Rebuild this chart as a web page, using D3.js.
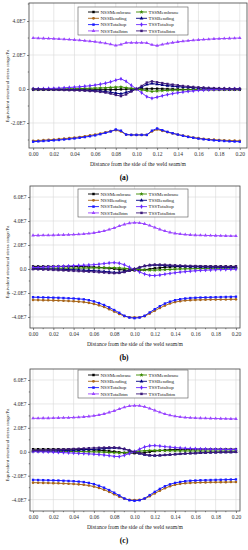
<!DOCTYPE html>
<html>
<head>
<meta charset="utf-8">
<script src="https://cdn.jsdelivr.net/npm/d3@7"></script>
<style>
  body { margin: 0; background: #fff; }
  svg { display: block; font-family: "Liberation Serif", "DejaVu Serif", serif; }
</style>
</head>
<body>
<div id="chart"></div>
<script>
// distance from weld seam side (m)
const xs = [0,0.005,0.01,0.015,0.02,0.025,0.03,0.035,0.04,0.045,0.05,0.055,0.06,0.065,0.07,0.075,0.08,0.085,0.09,0.095,
  0.1,0.105,0.11,0.115,0.12,0.125,0.13,0.135,0.14,0.145,0.15,0.155,0.16,0.165,0.17,0.175,0.18,0.185,0.19,0.195,0.2];

const seriesNames = ['NSSMembrane','TSSMembrane','NSSBending','TSSBending','NSSTotaltop','TSSTotaltop','NSSTotalbtm','TSSTotalbtm'];

const xTickValues = [0,0.02,0.04,0.06,0.08,0.1,0.12,0.14,0.16,0.18,0.2];
const xTickLabels = ['0.00','0.02','0.04','0.06','0.08','0.10','0.12','0.14','0.16','0.18','0.20'];
const yTickValuesA = [-2,0,2,4];
const yTickLabelsA = ['-2.0E7','0.0','2.0E7','4.0E7'];
const yTickValuesBC = [-4,-2,0,2,4,6];
const yTickLabelsBC = ['-4.0E7','-2.0E7','0.0','2.0E7','4.0E7','6.0E7'];

// values in units of 1E7 Pa
// panel (a)
const aNSSMembrane = [-0.05,-0.05,-0.05,-0.05,-0.05,-0.05,-0.05,-0.05,-0.05,-0.05,-0.05,-0.05,-0.04,-0.04,-0.04,-0.04,-0.03,-0.02,-0.01,0.0,0.0,0.0,0.01,0.02,0.02,0.01,0.0,-0.01,-0.02,-0.03,-0.03,-0.04,-0.04,-0.04,-0.05,-0.05,-0.05,-0.05,-0.05,-0.05,-0.05];
const aNSSBending = [-3.05,-3.03,-3.01,-2.99,-2.97,-2.95,-2.92,-2.89,-2.86,-2.82,-2.78,-2.73,-2.68,-2.62,-2.55,-2.48,-2.42,-2.50,-2.68,-2.70,-2.70,-2.70,-2.70,-2.50,-2.38,-2.46,-2.54,-2.61,-2.68,-2.74,-2.80,-2.85,-2.89,-2.93,-2.96,-2.98,-3.00,-3.02,-3.03,-3.04,-3.05];
const aNSSTotaltop = [-3.10,-3.08,-3.06,-3.04,-3.02,-3.00,-2.97,-2.94,-2.91,-2.87,-2.83,-2.78,-2.73,-2.66,-2.58,-2.50,-2.38,-2.45,-2.68,-2.70,-2.70,-2.70,-2.70,-2.45,-2.32,-2.42,-2.52,-2.60,-2.68,-2.75,-2.82,-2.87,-2.92,-2.96,-2.99,-3.02,-3.04,-3.06,-3.08,-3.09,-3.10];
const aNSSTotalbtm = [3.00,2.99,2.98,2.97,2.96,2.94,2.93,2.91,2.89,2.87,2.84,2.81,2.78,2.74,2.69,2.63,2.56,2.62,2.72,2.72,2.72,2.72,2.71,2.60,2.55,2.62,2.68,2.73,2.77,2.81,2.84,2.87,2.89,2.91,2.93,2.95,2.96,2.97,2.98,2.99,3.00];
const aTSSMembrane = [0.00,0.00,0.00,0.01,0.01,0.01,0.01,0.02,0.02,0.03,0.03,0.04,0.05,0.06,0.07,0.09,0.11,0.12,0.08,0.04,0.00,-0.05,-0.10,-0.14,-0.12,-0.10,-0.08,-0.07,-0.06,-0.05,-0.04,-0.03,-0.03,-0.02,-0.02,-0.01,-0.01,-0.01,0.00,0.00,0.00];
const aTSSBending = [0.00,0.00,-0.01,-0.01,-0.02,-0.02,-0.03,-0.04,-0.05,-0.06,-0.07,-0.08,-0.10,-0.12,-0.15,-0.19,-0.24,-0.28,-0.20,-0.10,0.00,0.12,0.26,0.32,0.28,0.24,0.20,0.17,0.14,0.12,0.10,0.08,0.06,0.05,0.04,0.03,0.02,0.02,0.01,0.01,0.00];
const aTSSTotaltop = [0.00,0.01,0.02,0.03,0.04,0.05,0.07,0.09,0.11,0.13,0.16,0.19,0.23,0.28,0.34,0.42,0.52,0.60,0.45,0.22,0.00,-0.22,-0.45,-0.55,-0.48,-0.40,-0.33,-0.27,-0.22,-0.18,-0.14,-0.11,-0.08,-0.06,-0.04,-0.03,-0.02,-0.01,-0.01,0.00,0.00];
const aTSSTotalbtm = [0.00,-0.01,-0.02,-0.03,-0.04,-0.05,-0.06,-0.07,-0.08,-0.09,-0.10,-0.12,-0.14,-0.17,-0.21,-0.27,-0.35,-0.42,-0.32,-0.15,0.00,0.18,0.38,0.45,0.40,0.35,0.30,0.26,0.22,0.18,0.15,0.12,0.10,0.08,0.06,0.05,0.04,0.03,0.02,0.01,0.01];

// panels (b) and (c): the NSS curves look the same in both
const bcNSSMembrane = [0.22,0.22,0.22,0.22,0.22,0.22,0.21,0.21,0.21,0.20,0.20,0.18,0.16,0.13,0.10,0.06,0.02,-0.04,-0.09,-0.11,-0.12,-0.11,-0.07,0.00,0.06,0.10,0.14,0.17,0.19,0.20,0.21,0.21,0.22,0.22,0.22,0.22,0.22,0.22,0.22,0.22,0.22];
const bcNSSBending = [-2.58,-2.59,-2.60,-2.61,-2.62,-2.63,-2.65,-2.67,-2.69,-2.72,-2.76,-2.82,-2.91,-3.03,-3.17,-3.35,-3.55,-3.75,-3.93,-4.02,-4.03,-4.02,-3.93,-3.72,-3.48,-3.25,-3.05,-2.88,-2.76,-2.68,-2.63,-2.60,-2.58,-2.57,-2.56,-2.55,-2.55,-2.54,-2.54,-2.53,-2.53];
const bcNSSTotaltop = [-2.35,-2.36,-2.37,-2.38,-2.39,-2.40,-2.42,-2.44,-2.46,-2.49,-2.53,-2.60,-2.70,-2.84,-3.00,-3.20,-3.42,-3.65,-3.90,-4.05,-4.10,-4.05,-3.90,-3.62,-3.35,-3.10,-2.88,-2.72,-2.60,-2.52,-2.46,-2.42,-2.40,-2.38,-2.37,-2.36,-2.35,-2.34,-2.33,-2.32,-2.31];
const bcNSSTotalbtm = [2.80,2.80,2.81,2.81,2.82,2.83,2.84,2.85,2.87,2.89,2.92,2.96,3.01,3.08,3.17,3.29,3.42,3.58,3.72,3.82,3.86,3.84,3.76,3.62,3.46,3.30,3.16,3.05,2.97,2.91,2.87,2.84,2.82,2.81,2.80,2.79,2.78,2.77,2.76,2.75,2.75];

const bTSSMembrane = [0.05,0.05,0.05,0.06,0.06,0.06,0.06,0.07,0.07,0.07,0.08,0.08,0.09,0.09,0.10,0.10,0.10,0.08,0.05,0.02,-0.02,-0.05,-0.08,-0.10,-0.10,-0.08,-0.06,-0.04,-0.02,0.00,0.01,0.02,0.03,0.04,0.05,0.05,0.06,0.06,0.06,0.07,0.07];
const bTSSBending = [0.02,0.02,0.01,0.00,-0.01,-0.02,-0.03,-0.05,-0.06,-0.08,-0.10,-0.12,-0.14,-0.17,-0.20,-0.24,-0.28,-0.28,-0.22,-0.12,0.00,0.12,0.24,0.30,0.32,0.31,0.29,0.27,0.25,0.23,0.21,0.19,0.18,0.17,0.16,0.15,0.14,0.14,0.13,0.13,0.13];
const bTSSTotaltop = [0.12,0.13,0.15,0.17,0.19,0.21,0.23,0.25,0.27,0.29,0.31,0.33,0.36,0.40,0.45,0.50,0.53,0.48,0.35,0.15,-0.05,-0.25,-0.42,-0.53,-0.55,-0.50,-0.43,-0.37,-0.31,-0.26,-0.22,-0.18,-0.15,-0.12,-0.10,-0.08,-0.06,-0.05,-0.04,-0.03,-0.02];
const bTSSTotalbtm = [-0.02,-0.03,-0.05,-0.06,-0.08,-0.10,-0.12,-0.14,-0.16,-0.18,-0.20,-0.22,-0.24,-0.27,-0.30,-0.33,-0.35,-0.33,-0.26,-0.14,0.00,0.14,0.26,0.33,0.36,0.36,0.35,0.33,0.31,0.29,0.27,0.26,0.25,0.24,0.23,0.22,0.22,0.21,0.21,0.20,0.20];

const cTSSMembrane = [0.05,0.05,0.05,0.04,0.04,0.04,0.03,0.03,0.02,0.02,0.01,0.00,-0.01,-0.02,-0.04,-0.06,-0.08,-0.09,-0.07,-0.03,0.01,0.05,0.09,0.11,0.12,0.11,0.10,0.09,0.08,0.08,0.07,0.07,0.07,0.07,0.06,0.06,0.06,0.06,0.06,0.06,0.06];
const cTSSBending = [0.05,0.05,0.06,0.07,0.08,0.09,0.10,0.12,0.13,0.15,0.17,0.19,0.21,0.24,0.27,0.30,0.32,0.30,0.22,0.10,-0.02,-0.14,-0.25,-0.30,-0.32,-0.30,-0.27,-0.24,-0.21,-0.18,-0.15,-0.13,-0.11,-0.09,-0.07,-0.06,-0.05,-0.04,-0.03,-0.03,-0.02];
const cTSSTotaltop = [0.02,0.01,0.00,-0.01,-0.03,-0.05,-0.07,-0.09,-0.11,-0.13,-0.15,-0.17,-0.20,-0.23,-0.27,-0.32,-0.38,-0.40,-0.30,-0.14,0.02,0.22,0.40,0.50,0.52,0.48,0.43,0.39,0.35,0.32,0.29,0.27,0.25,0.24,0.23,0.22,0.21,0.21,0.20,0.20,0.20];
const cTSSTotalbtm = [0.10,0.11,0.12,0.14,0.16,0.18,0.20,0.22,0.24,0.26,0.28,0.30,0.32,0.34,0.35,0.36,0.36,0.33,0.24,0.12,0.00,-0.12,-0.22,-0.28,-0.30,-0.29,-0.27,-0.24,-0.21,-0.18,-0.15,-0.13,-0.11,-0.09,-0.07,-0.06,-0.05,-0.04,-0.03,-0.03,-0.02];

const colors = {
  NSSMembrane: '#000000', TSSMembrane: '#3a8a00', NSSBending: '#a8661a', TSSBending: '#000080',
  NSSTotaltop: '#1a1aff', TSSTotaltop: '#6a2aff', NSSTotalbtm: '#9a45ff', TSSTotalbtm: '#3d1a7a'
};
const symbols = {
  NSSMembrane: d3.symbolSquare, TSSMembrane: d3.symbolStar, NSSBending: d3.symbolCircle, TSSBending: d3.symbolTriangle,
  NSSTotaltop: d3.symbolSquare, TSSTotaltop: d3.symbolDiamond, NSSTotalbtm: d3.symbolTriangle, TSSTotalbtm: d3.symbolSquare
};
const drawOrder = ['NSSMembrane','NSSBending','NSSTotaltop','NSSTotalbtm','TSSMembrane','TSSBending','TSSTotaltop','TSSTotalbtm'];

const panels = [
  { frame: { l: 29, r: 247, t: 3, b: 148 }, xDomain: [-0.004, 0.207], yDomain: [-3.47, 5.06],
    yTicks: yTickValuesA, yLabels: yTickLabelsA, legendY: 7, yTitleY: 86, caption: '(a)',
    data: { NSSMembrane: aNSSMembrane, TSSMembrane: aTSSMembrane, NSSBending: aNSSBending, TSSBending: aTSSBending,
            NSSTotaltop: aNSSTotaltop, TSSTotaltop: aTSSTotaltop, NSSTotalbtm: aNSSTotalbtm, TSSTotalbtm: aTSSTotalbtm } },
  { frame: { l: 30, r: 240, t: 186, b: 328 }, xDomain: [-0.003, 0.204], yDomain: [-4.92, 6.92],
    yTicks: yTickValuesBC, yLabels: yTickLabelsBC, legendY: 189, yTitleY: 262, caption: '(b)',
    data: { NSSMembrane: bcNSSMembrane, TSSMembrane: bTSSMembrane, NSSBending: bcNSSBending, TSSBending: bTSSBending,
            NSSTotaltop: bcNSSTotaltop, TSSTotaltop: bTSSTotaltop, NSSTotalbtm: bcNSSTotalbtm, TSSTotalbtm: bTSSTotalbtm } },
  { frame: { l: 30, r: 240, t: 369, b: 511 }, xDomain: [-0.003, 0.204], yDomain: [-4.95, 6.92],
    yTicks: yTickValuesBC, yLabels: yTickLabelsBC, legendY: 370, yTitleY: 445, caption: '(c)',
    data: { NSSMembrane: bcNSSMembrane, TSSMembrane: cTSSMembrane, NSSBending: bcNSSBending, TSSBending: cTSSBending,
            NSSTotaltop: bcNSSTotaltop, TSSTotaltop: cTSSTotaltop, NSSTotalbtm: bcNSSTotalbtm, TSSTotalbtm: cTSSTotalbtm } }
];

const svg = d3.select('#chart').append('svg').attr('width', 248).attr('height', 550);

panels.forEach(p => {
  const f = p.frame;
  const x = d3.scaleLinear().domain(p.xDomain).range([f.l, f.r]);
  const y = d3.scaleLinear().domain(p.yDomain).range([f.b, f.t]);
  const g = svg.append('g');

  // grid
  g.append('g').selectAll('line').data(xTickValues).join('line')
    .attr('x1', d => x(d)).attr('x2', d => x(d)).attr('y1', f.t).attr('y2', f.b)
    .attr('stroke', '#d8d8d8').attr('stroke-width', 0.6);
  g.append('g').selectAll('line').data(p.yTicks).join('line')
    .attr('x1', f.l).attr('x2', f.r).attr('y1', d => y(d)).attr('y2', d => y(d))
    .attr('stroke', '#d8d8d8').attr('stroke-width', 0.6);

  // axes
  const xAxis = g.append('g').attr('transform', `translate(0,${f.b})`)
    .call(d3.axisBottom(x).tickValues(xTickValues).tickSize(2).tickPadding(2).tickFormat((d, i) => xTickLabels[i]));
  const xMinor = d3.range(0.01, 0.2, 0.02);
  g.append('g').selectAll('line').data(xMinor).join('line')
    .attr('x1', d => x(d)).attr('x2', d => x(d)).attr('y1', f.b).attr('y2', f.b + 1.2)
    .attr('stroke', '#333').attr('stroke-width', 0.6);
  const yAxis = g.append('g').attr('transform', `translate(${f.l},0)`)
    .call(d3.axisLeft(y).tickValues(p.yTicks).tickSize(2).tickPadding(1.5).tickFormat((d, i) => p.yLabels[i]));
  const yMinor = d3.range(Math.ceil(p.yDomain[0]), p.yDomain[1], 1).filter(v => v % 2 !== 0);
  g.append('g').selectAll('line').data(yMinor).join('line')
    .attr('x1', f.l - 1.2).attr('x2', f.l).attr('y1', d => y(d)).attr('y2', d => y(d))
    .attr('stroke', '#333').attr('stroke-width', 0.6);
  [xAxis, yAxis].forEach(a => {
    a.select('.domain').remove();
    a.selectAll('line').attr('stroke', '#333').attr('stroke-width', 0.6);
    a.selectAll('text').attr('font-size', 5.5).attr('fill', '#333').attr('font-family', '"Liberation Serif", serif');
  });

  // series
  const line = d3.line().x((d, i) => x(xs[i])).y(d => y(d));
  drawOrder.forEach(name => {
    const vals = p.data[name];
    g.append('path').datum(vals).attr('d', line)
      .attr('fill', 'none').attr('stroke', colors[name]).attr('stroke-width', 1);
    g.append('g').selectAll('path').data(vals).join('path')
      .attr('transform', (d, i) => `translate(${x(xs[i])},${y(d)})`)
      .attr('d', d3.symbol().type(symbols[name]).size(5.5))
      .attr('fill', colors[name]);
  });

  // frame
  g.append('rect').attr('x', f.l).attr('y', f.t).attr('width', f.r - f.l).attr('height', f.b - f.t)
    .attr('fill', 'none').attr('stroke', '#444').attr('stroke-width', 0.8);

  // legend
  const lg = g.append('g').attr('transform', `translate(78,${p.legendY})`);
  lg.append('rect').attr('width', 110).attr('height', 28).attr('fill', '#fff')
    .attr('stroke', '#555').attr('stroke-width', 0.6);
  seriesNames.forEach((name, i) => {
    const cx = i % 2 === 0 ? 10 : 58;
    const cy = 5 + Math.floor(i / 2) * 6.3;
    lg.append('line').attr('x1', cx).attr('x2', cx + 11).attr('y1', cy).attr('y2', cy)
      .attr('stroke', colors[name]).attr('stroke-width', 0.9);
    lg.append('path').attr('transform', `translate(${cx + 5.5},${cy})`)
      .attr('d', d3.symbol().type(symbols[name]).size(6)).attr('fill', colors[name]);
    lg.append('text').attr('x', cx + 12.5).attr('y', cy + 1.7).attr('font-size', 5)
      .attr('fill', '#222').text(name);
  });

  // titles
  g.append('text').attr('transform', `translate(9,${p.yTitleY}) rotate(-90)`)
    .attr('text-anchor', 'middle').attr('font-size', 5).attr('fill', '#222')
    .text('Equivalent structural stress range/Pa');
  g.append('text').attr('x', (f.l + f.r) / 2).attr('y', f.b + 18)
    .attr('text-anchor', 'middle').attr('font-size', 5.6).attr('fill', '#222')
    .text('Distance from the side of the weld seam/m');
  g.append('text').attr('x', 124).attr('y', f.b + 32)
    .attr('text-anchor', 'middle').attr('font-size', 7.5).attr('font-weight', 'bold').attr('fill', '#000')
    .text(p.caption);
});
</script>
</body>
</html>
